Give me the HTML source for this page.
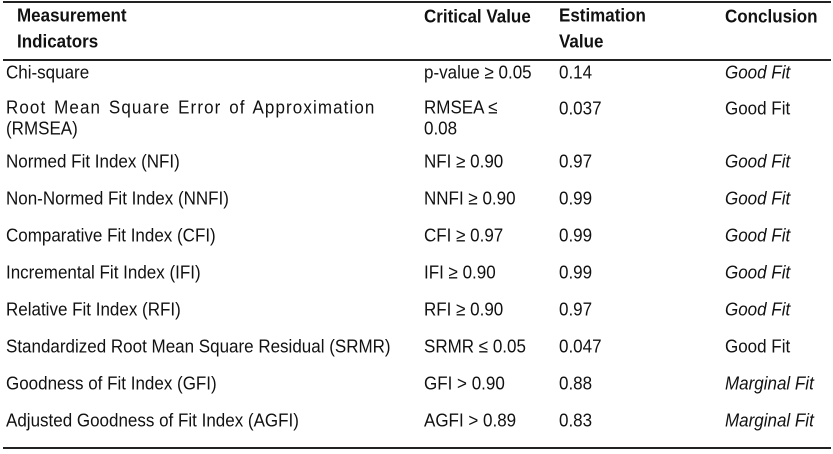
<!DOCTYPE html>
<html><head><style>
body{margin:0;background:#fff;width:833px;height:454px;position:relative;overflow:hidden;font-family:"Liberation Sans",Arial,sans-serif;font-size:17px;color:#111}
.t{position:absolute;line-height:19px;white-space:nowrap;transform:scaleY(1.1);transform-origin:0 50%}
.b{font-weight:bold;line-height:24px}
.i{font-style:italic}
.l{position:absolute;left:3px;width:828px;background:#222}
.w{letter-spacing:1.1px;word-spacing:2px}
</style></head><body>
<div class="l" style="top:1px;height:2px"></div>
<div class="l" style="top:59px;height:2px"></div>
<div class="l" style="top:447px;height:2px"></div>

<div class="t b" style="left:17px;top:5px">Measurement<br>Indicators</div>
<div class="t b" style="left:424px;top:5px">Critical Value</div>
<div class="t b" style="left:559px;top:5px">Estimation<br>Value</div>
<div class="t b" style="left:725px;top:5px">Conclusion</div>

<div class="t" style="left:6px;top:63px">Chi-square</div>
<div class="t" style="left:424px;top:63px">p-value ≥ 0.05</div>
<div class="t" style="left:559px;top:63px">0.14</div>
<div class="t i" style="left:725px;top:63px">Good Fit</div>

<div class="t" style="left:6px;top:99px"><span class="w">Root Mean Square Error of Approximation</span><br>(RMSEA)</div>
<div class="t" style="left:424px;top:99px">RMSEA ≤<br>0.08</div>
<div class="t" style="left:559px;top:99px">0.037</div>
<div class="t" style="left:725px;top:99px">Good Fit</div>

<div class="t" style="left:6px;top:152px">Normed Fit Index (NFI)</div>
<div class="t" style="left:424px;top:152px">NFI ≥ 0.90</div>
<div class="t" style="left:559px;top:152px">0.97</div>
<div class="t i" style="left:725px;top:152px">Good Fit</div>

<div class="t" style="left:6px;top:189px">Non-Normed Fit Index (NNFI)</div>
<div class="t" style="left:424px;top:189px">NNFI ≥ 0.90</div>
<div class="t" style="left:559px;top:189px">0.99</div>
<div class="t i" style="left:725px;top:189px">Good Fit</div>

<div class="t" style="left:6px;top:226px">Comparative Fit Index (CFI)</div>
<div class="t" style="left:424px;top:226px">CFI ≥ 0.97</div>
<div class="t" style="left:559px;top:226px">0.99</div>
<div class="t i" style="left:725px;top:226px">Good Fit</div>

<div class="t" style="left:6px;top:263px">Incremental Fit Index (IFI)</div>
<div class="t" style="left:424px;top:263px">IFI ≥ 0.90</div>
<div class="t" style="left:559px;top:263px">0.99</div>
<div class="t i" style="left:725px;top:263px">Good Fit</div>

<div class="t" style="left:6px;top:300px">Relative Fit Index (RFI)</div>
<div class="t" style="left:424px;top:300px">RFI ≥ 0.90</div>
<div class="t" style="left:559px;top:300px">0.97</div>
<div class="t i" style="left:725px;top:300px">Good Fit</div>

<div class="t" style="left:6px;top:337px">Standardized Root Mean Square Residual (SRMR)</div>
<div class="t" style="left:424px;top:337px">SRMR ≤ 0.05</div>
<div class="t" style="left:559px;top:337px">0.047</div>
<div class="t" style="left:725px;top:337px">Good Fit</div>

<div class="t" style="left:6px;top:374px">Goodness of Fit Index (GFI)</div>
<div class="t" style="left:424px;top:374px">GFI &gt; 0.90</div>
<div class="t" style="left:559px;top:374px">0.88</div>
<div class="t i" style="left:725px;top:374px">Marginal Fit</div>

<div class="t" style="left:6px;top:411px">Adjusted Goodness of Fit Index (AGFI)</div>
<div class="t" style="left:424px;top:411px">AGFI &gt; 0.89</div>
<div class="t" style="left:559px;top:411px">0.83</div>
<div class="t i" style="left:725px;top:411px">Marginal Fit</div>
</body></html>
